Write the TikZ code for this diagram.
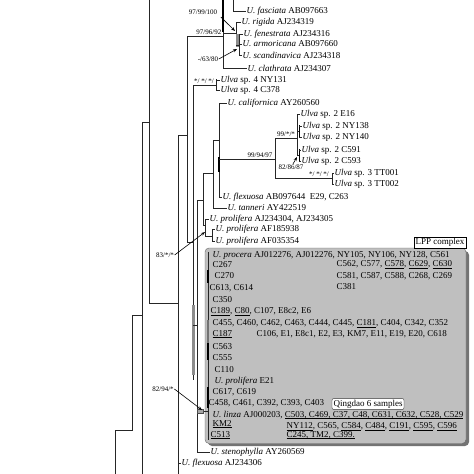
\documentclass[tikz,border=0pt]{standalone}
\usepackage{fontspec}
\setmainfont{Liberation Serif}
\usetikzlibrary{arrows.meta}
\newcommand{\ulx}[1]{\underline{\smash{#1}}}
\begin{document}
\begin{tikzpicture}[x=1pt,y=-1pt,
  br/.style={line width=0.7pt, draw=black!85},
  thk/.style={line width=1.8pt, draw=black},
  gthk/.style={line width=2.4pt, draw=black!45},
  leaf/.style={anchor=west, inner sep=0.5pt, font=\fontsize{9}{10}\selectfont},
  lpp/.style={anchor=west, inner sep=0.5pt, font=\fontsize{9}{10}\selectfont},
  bsv/.style={inner sep=0.5pt, font=\fontsize{7}{8}\selectfont},
  arr/.style={-{Stealth[length=4pt,width=3pt]}, line width=0.6pt},
  tag/.style={draw=black!80, fill=white, inner sep=1.5pt, font=\fontsize{9}{10}\selectfont}]
\useasboundingbox (0,0) rectangle (474,474);
\clip (0,0) rectangle (474,474);

% LPP box
\fill[black!55, rounded corners=4pt] (208,251) rectangle (469,446);
\filldraw[fill=black!25, draw=black!60, rounded corners=4pt] (205,248) rectangle (466,443.5);

% leaf labels
\node[leaf] (fas) at (246,11) {\textit{U. fasciata} AB097663};
\node[leaf] (rig) at (241,22) {\textit{U. rigida} AJ234319};
\node[leaf] (fen) at (243,34) {\textit{U. fenestrata} AJ234316};
\node[leaf] (arm) at (242,44) {\textit{U. armoricana} AB097660};
\node[leaf] (sca) at (242,55) {\textit{U. scandinavica} AJ234318};
\node[leaf] (cla) at (247,68) {\textit{U. clathrata} AJ234307};
\node[leaf] (s4a) at (220,80) {\textit{Ulva} sp. 4 NY131};
\node[leaf] (s4b) at (220,90) {\textit{Ulva} sp. 4 C378};
\node[leaf] (cal) at (227,103) {\textit{U. californica} AY260560};
\node[leaf] (s2a) at (300,114) {\textit{Ulva} sp. 2 E16};
\node[leaf] (s2b) at (302,126) {\textit{Ulva} sp. 2 NY138};
\node[leaf] (s2c) at (302,137) {\textit{Ulva} sp. 2 NY140};
\node[leaf] (s2d) at (301,150) {\textit{Ulva} sp. 2 C591};
\node[leaf] (s2e) at (301,161) {\textit{Ulva} sp. 2 C593};
\node[leaf] (s3a) at (334,173) {\textit{Ulva} sp. 3 TT001};
\node[leaf] (s3b) at (334,184) {\textit{Ulva} sp. 3 TT002};
\node[leaf] (flx) at (222,197) {\textit{U. flexuosa} AB097644\ \ E29, C263};
\node[leaf] (tan) at (227,208) {\textit{U. tanneri} AY422519};
\node[leaf] (pra) at (209,219) {\textit{U. prolifera} AJ234304, AJ234305};
\node[leaf] (prb) at (215,229) {\textit{U. prolifera} AF185938};
\node[leaf] (prc) at (215,241) {\textit{U. prolifera} AF035354};
\node[leaf] (ste) at (210,452.5) {\textit{U. stenophylla} AY260569};
\node[leaf] (fl2) at (181,463) {\textit{U. flexuosa} AJ234306};

% LPP contents
\node[lpp] (l1) at (212,255) {\textit{U. procera} AJ012276, AJ012276, NY105, NY106, NY128, C561};
\node[lpp] (l2) at (212,265) {C267};
\node[lpp] (r2) at (336,265) {C562, C577, \ulx{C578}, \ulx{C629}, \ulx{C630}};
\node[lpp] (l3) at (214,276) {C270};
\node[lpp] (r3) at (336,276) {C581, C587, C588, C268, C269};
\node[lpp] (l4) at (209,288) {C613, C614};
\node[lpp] (r4) at (336,287) {C381};
\node[lpp] (l5) at (212,300) {C350};
\node[lpp] (l6) at (210,312) {\ulx{C189}, \ulx{C80}, C107, E8c2, E6};
\node[lpp] (l7) at (212,324) {C455, C460, C462, C463, C444, C445, \ulx{C181}, C404, C342, C352};
\node[lpp] (r8) at (256,334) {C106, E1, E8c1, E2, E3, KM7, E11, E19, E20, C618};
\node[lpp] (l8) at (212,337) {\ulx{C187}};
\node[lpp] (l9) at (212,347) {C563};
\node[lpp] (l10) at (212,358) {C555};
\node[lpp] (l11) at (214,370) {C110};
\node[lpp] (l12) at (214,381) {\textit{U. prolifera} E21};
\node[lpp] (l13) at (212,392) {C617, C619};
\node[lpp] (l14) at (208,403) {C458, C461, C392, C393, C403};
\node[lpp] (l15) at (212,415) {\textit{U. linza} AJ000203, \ulx{C503, C469, C37, C48, C631, C632, C528, C529}};
\node[lpp] (l16) at (212,427) {\ulx{KM2}};
\node[lpp] (r16) at (286,427) {\ulx{NY112}, C565, \ulx{C584}, \ulx{C484}, \ulx{C191}, \ulx{C595}, \ulx{C596}};
\node[lpp] (l17) at (210,438) {\ulx{C513}};
\node[lpp] (r17) at (286,438) {\ulx{C245, TM2, C399.}};

\node[tag, rounded corners=2pt] (qd) at (368,404) {Qingdao 6 samples};
\node[tag, draw=black] (lppl) at (440,242.5) {LPP complex};

% backbone
\draw[br] (149,-2) -- (149,303) -- (178,303);
\draw[br] (142,122) -- (149,122);
\draw[br] (142,122) -- (142,476);
\draw[br] (132,315) -- (142,315);
\draw[br] (132,315) -- (132,430) -- (115,430) -- (115,476);
\draw[br] (178,135) -- (178,476);
\draw[br] (178,135) -- (187,135);
\draw[br] (178,463) -- (fl2.west);
\draw[br] (187,36) -- (187,242) -- (193,242);
\draw[br] (187,36) -- (223,36);

% top clade
\draw[br] (223,-2) -- (223,68);
\draw[thk] (223,-2) -- (223,32);
\draw[br] (223,68) -- (cla.west);
\draw[br] (233,-2) -- (233,11) -- (fas.west);
\draw[br] (223,33) -- (236,33);
\draw[br] (236,22) -- (236,45);
\draw[br] (236,22) -- (rig.west);
\fill[black!45] (236.3,34) rectangle (238.7,47);
\draw[br] (236,45) -- (239,45);
\draw[br] (239,34) -- (239,55);
\draw[br] (239,34) -- (fen.west);
\draw[br] (239,44) -- (arm.west);
\draw[br] (239,55) -- (sca.west);

% Ulva sp. 4 and lower backbone
\draw[br] (193,85) -- (193,380);
\draw[gthk] (193.5,305) -- (193.5,375);
\draw[br] (193,85) -- (216,85);
\draw[br] (216,79) -- (216,90);
\draw[br] (216,80) -- (s4a.west);
\draw[br] (216,90) -- (s4b.west);
\draw[br] (193,325) -- (197,325);
\draw[br] (197,200) -- (197,452.5) -- (ste.west);
\draw[br] (197,200) -- (203,200);
\draw[br] (203,173) -- (203,225);
\draw[br] (203,173) -- (213,173);
\draw[br] (213,140) -- (213,208) -- (tan.west);
\draw[br] (213,140) -- (219,140);
\draw[br] (219,103) -- (219,197);
\draw[thk] (219,157) -- (219,172);
\draw[br] (219,103) -- (cal.west);
\draw[br] (219,197) -- (flx.west);
\draw[br] (219,159) -- (275,159);
\draw[br] (275,138) -- (275,178);
\draw[br] (275,138) -- (297,138);
\draw[br] (297,114) -- (297,155);
\draw[br] (297,114) -- (s2a.west);
\draw[br] (297,131) -- (299,131);
\draw[br] (297,155) -- (299,155);
\draw[thk] (299.5,125) -- (299.5,137.5);
\draw[thk] (299.5,149) -- (299.5,161.5);
\draw[br] (299,126) -- (s2b.west);
\draw[br] (299,137) -- (s2c.west);
\draw[br] (299,150) -- (s2d.west);
\draw[br] (299,161) -- (s2e.west);
\draw[br] (275,178) -- (332,178);
\draw[br] (332,173) -- (332,184);
\draw[br] (332,173) -- (s3a.west);
\draw[br] (332,184) -- (s3b.west);

% prolifera
\draw[br] (203,225) -- (205,225);
\draw[br] (205,219) -- (205,236);
\draw[br] (205,219) -- (pra.west);
\draw[br] (205,236) -- (212,236);
\draw[br] (212,229) -- (212,241);
\draw[br] (212,229) -- (prb.west);
\draw[br] (212,241) -- (prc.west);

% LPP attachment
\draw[br] (197,411) -- (208,411);
\filldraw[fill=black!35, draw=black!70, line width=0.4pt] (197,409) rectangle (203,413);
\draw[br] (208,252) -- (208,440);
\draw[thk] (208,270) -- (208,283);
\draw[line width=1.8pt, black!55] (208,320) -- (208,343);
\draw[thk] (208,343) -- (208,360);
\draw[thk] (208,387) -- (208,408);

% support values
\node[bsv] (b1) at (203,12) {97/99/100};
\draw[arr] ([xshift=3pt,yshift=-2pt]b1.south east) -- (235,31);
\node[bsv, anchor=south east] (b2) at (222,35.5) {97/96/92};
\node[bsv] (b3) at (208,59) {-/63/80};
\draw[arr] (b3.east) -- (237,49);
\node[bsv, anchor=south] (b4) at (204,84.5) {*/ */ */};
\node[bsv, anchor=south] (b5) at (260,158.5) {99/94/97};
\node[bsv, anchor=south] (b6) at (286,137.5) {99/*/*};
\node[bsv] (b7) at (291,167) {82/86/87};
\draw[arr] ([xshift=2pt]b7.north) -- (297,157);
\node[bsv, anchor=south] (b8) at (319,177.5) {*/ */ */};
\node[bsv] (b9) at (165,255) {83/*/*};
\draw[arr] (b9.east) -- (205,232);
\node[bsv] (b10) at (163,389) {82/94/*};
\draw[arr] (b10.east) -- (202,410);
\end{tikzpicture}
\end{document}
